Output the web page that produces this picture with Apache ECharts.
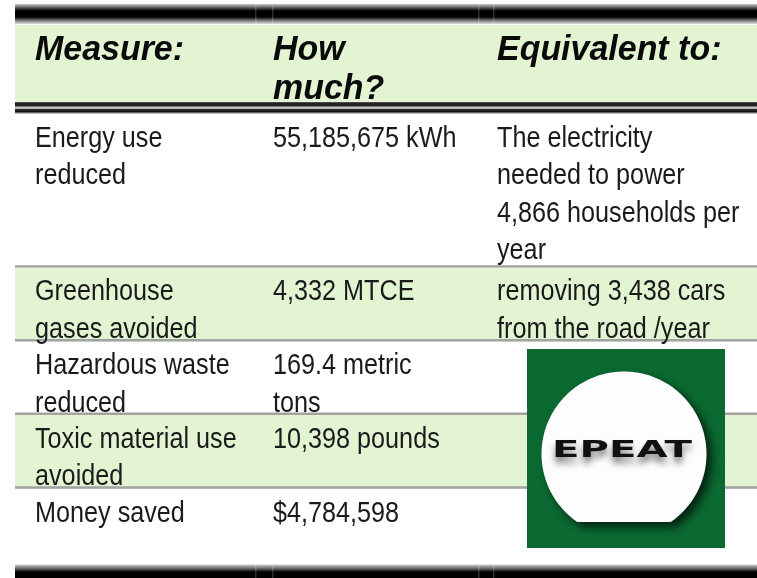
<!DOCTYPE html>
<html>
<head>
<meta charset="utf-8">
<script src="https://cdn.jsdelivr.net/npm/echarts@6/dist/echarts.min.js"></script>
<style>
html,body{margin:0;padding:0;background:#fff;}
#box{width:757px;height:578px;}
</style>
</head>
<body>
<div id="box"></div>
<script>
//表头和数据
var headers = ['Measure:', 'How\nmuch?', 'Equivalent to:'];
var measures = ['Energy use\nreduced', 'Greenhouse\ngases avoided', 'Hazardous waste\nreduced', 'Toxic material use\navoided', 'Money saved'];
var amounts = ['55,185,675 kWh', '4,332 MTCE', '169.4 metric\ntons', '10,398 pounds', '$4,784,598'];
var equivalents = ['The electricity\nneeded to power\n4,866 households per\nyear', 'removing 3,438 cars\nfrom the road /year', '', '', ''];
var logoText = 'EPEAT';

var rows = [headers];
for (var i = 0; i < measures.length; i++) {
	rows.push([measures[i], amounts[i], equivalents[i]]);
}

//版式
var W = 757, H = 578;
var left = 15, right = 757;
var colX = [35, 273, 497];
var green = '#e3f4d3';
var font = "'Liberation Sans', Arial, sans-serif";

function lineCount(row) {
	var n = 1;
	row.forEach(function (t) { n = Math.max(n, t.split('\n').length); });
	return Math.max(2, n);
}

//每行的上下边
var spans = [];
var y = 25;
rows.forEach(function (row, i) {
	var h = i === 0 ? 77 : 40 * lineCount(row) - 6.3;
	spans.push([i, y, y + h]);
	y += h + (i === 0 ? 12 : 0);
});

function grad(stops) {
	return {type: 'linear', x: 0, y: 0, x2: 0, y2: 1, colorStops: stops};
}

function band(x0, y0, x1, y1, stops) {
	return {
		type: 'rect',
		shape: {x: x0, y: y0, width: x1 - x0, height: y1 - y0},
		style: {fill: grad(stops)}
	};
}

function marks(y0, y1) {
	return [255, 272, 478, 493].map(function (x) {
		return {type: 'rect', shape: {x: x, y: y0, width: 1.5, height: y1 - y0}, style: {fill: 'rgba(255,255,255,0.18)'}};
	});
}

function renderItem(params, api) {
	var i = params.dataIndex;
	var head = i === 0;
	var top = api.value(1), bottom = api.value(2);
	var p0 = api.coord([left, top]);
	var p1 = api.coord([right, bottom]);
	var children = [];
	if (i % 2 === 0) {
		children.push({type: 'rect', shape: {x: p0[0], y: p0[1], width: p1[0] - p0[0], height: p1[1] - p0[1]}, style: {fill: green}});
	}
	if (head) {
		var t = api.coord([left, 4]);
		children.push(band(p0[0], t[1], p1[0], p0[1] - 1, [
			{offset: 0, color: '#c8c8c8'}, {offset: 0.25, color: '#333'}, {offset: 0.35, color: '#000'},
			{offset: 0.65, color: '#000'}, {offset: 0.82, color: '#777'}, {offset: 1, color: '#dcdcdc'}
		]));
		children = children.concat(marks(t[1], p0[1] - 1));
		children.push(band(p0[0], p1[1], p1[0], p1[1] + 12, [
			{offset: 0, color: '#666'}, {offset: 0.1, color: '#222'}, {offset: 0.33, color: '#222'},
			{offset: 0.42, color: '#c8c8c8'}, {offset: 0.52, color: '#d8d8d8'}, {offset: 0.6, color: '#333'},
			{offset: 0.8, color: '#111'}, {offset: 0.9, color: '#777'}, {offset: 1, color: '#f4f4f4'}
		]));
	} else if (i < rows.length - 1) {
		children.push({type: 'rect', shape: {x: p0[0], y: p1[1] - 2.5, width: p1[0] - p0[0], height: 2.5}, style: {fill: '#a2a2a2'}});
	} else {
		var b = api.coord([left, H]);
		children.push(band(p0[0], p1[1] + 2, p1[0], b[1], [
			{offset: 0, color: '#d0d0d0'}, {offset: 0.3, color: '#666'}, {offset: 0.55, color: '#000'}, {offset: 1, color: '#000'}
		]));
		children = children.concat(marks(p1[1] + 2, b[1]));
	}
	rows[i].forEach(function (txt, c) {
		if (!txt) return;
		txt.split('\n').forEach(function (line, k) {
			var pt = api.coord([colX[c], top + (head ? 25 : 24.5) + k * (head ? 39 : 37.5)]);
			children.push({
				type: 'text',
				x: pt[0], y: pt[1],
				scaleX: head ? 0.97 : 0.84,
				style: {
					text: line, x: 0, y: 0,
					fill: head ? '#0a0a0a' : '#1a1a1a',
					font: head ? 'italic bold 35px ' + font : '30px ' + font,
					align: 'left', verticalAlign: 'middle',
					textAlign: 'left', textVerticalAlign: 'middle'
				}
			});
		});
	});
	return {type: 'group', children: children};
}

//EPEAT 标志: 底部截平的圆
function logoShape(cx, cy, r, cutY) {
	var a0 = Math.asin((cutY - cy) / r);
	var span = Math.PI + 2 * a0;
	var pts = [];
	for (var k = 0; k <= 160; k++) {
		var a = a0 - span * k / 160;
		pts.push([cx + r * Math.cos(a), cy + r * Math.sin(a)]);
	}
	return pts;
}

var option = {
	animation: false,
	grid: {left: 0, right: 0, top: 0, bottom: 0},
	xAxis: {type: 'value', min: 0, max: W, show: false},
	yAxis: {type: 'value', min: 0, max: H, inverse: true, show: false},
	series: [{
		type: 'custom',
		renderItem: renderItem,
		data: spans,
		clip: false,
		silent: true,
		z: 1
	}],
	graphic: [
		{type: 'rect', z: 100, zlevel: 1, shape: {x: 527, y: 349, width: 198, height: 199}, style: {fill: '#0b6a31'}},
		{type: 'polygon', z: 101, zlevel: 1, shape: {points: logoShape(624, 454, 82.5, 522)},
			style: {fill: '#fdfdfd', shadowBlur: 10, shadowColor: 'rgba(0,0,0,0.7)', shadowOffsetX: 5, shadowOffsetY: 5}},
		{type: 'text', z: 102, zlevel: 1, x: 622, y: 451, scaleX: 1.75,
			style: {text: logoText, x: 0, y: 0, fill: '#111', font: "bold 23px 'DejaVu Sans', sans-serif",
				align: 'center', verticalAlign: 'middle', textAlign: 'center', textVerticalAlign: 'middle',
				textShadowColor: 'rgba(0,0,0,0.5)', textShadowBlur: 7, textShadowOffsetY: 6}}
	]
};
var chart = echarts.init(document.getElementById('box'));
chart.setOption(option);
</script>
</body>
</html>
